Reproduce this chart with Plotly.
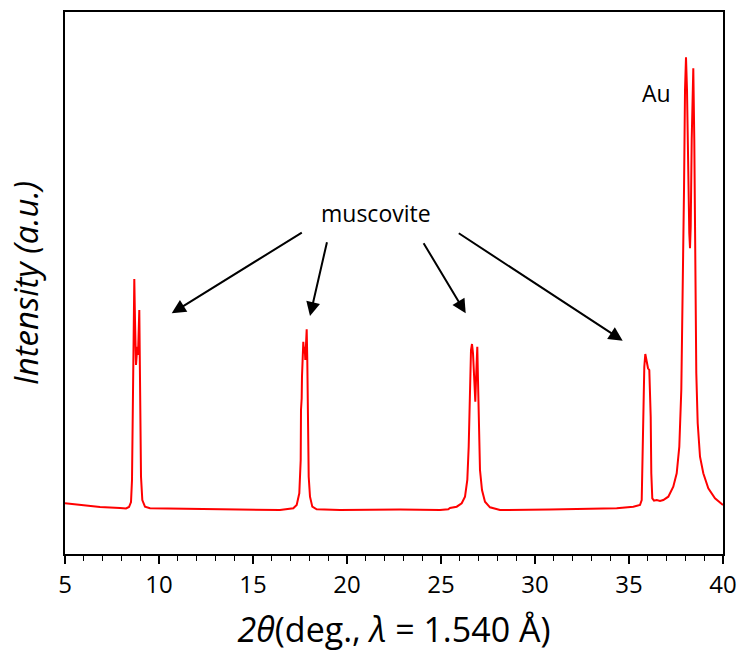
import plotly.graph_objects as go

# 2-theta (deg) and intensity (a.u.)
two_theta = [
    5.000, 5.798, 6.862, 7.926, 8.245, 8.404, 8.511, 8.564, 8.617, 8.660, 8.686,
    8.723, 8.777, 8.846, 8.883, 8.952, 9.005, 9.043, 9.112, 9.255, 9.521,
    12.181, 14.840, 16.436, 17.144, 17.324, 17.463, 17.537, 17.553, 17.590, 17.606,
    17.644, 17.676, 17.713, 17.750, 17.782, 17.819, 17.856, 17.888, 17.926, 17.963,
    18.032, 18.154, 18.388, 19.628, 22.819, 24.947, 25.388, 25.479, 25.835, 26.101,
    26.277, 26.399, 26.473, 26.543, 26.596, 26.649, 26.702, 26.771, 26.824, 26.862,
    26.899, 26.931, 26.968, 27.005, 27.074, 27.181, 27.340, 27.606, 28.138, 30.798,
    33.457, 34.346, 35.229, 35.585, 35.676, 35.729, 35.761, 35.814, 35.867, 35.941,
    36.011, 36.080, 36.117, 36.154, 36.186, 36.239, 36.330, 36.473, 36.649, 36.824,
    37.090, 37.356, 37.537, 37.676, 37.782, 37.856, 37.926, 37.979, 38.032, 38.085,
    38.138, 38.207, 38.245, 38.282, 38.335, 38.388, 38.420, 38.473, 38.527, 38.580,
    38.654, 38.777, 38.952, 39.218, 39.574, 40.000,
]
intensity = [
    50.7, 49.0, 47.0, 46.0, 45.5, 47.0, 52.0, 74.0, 154.0, 254.0, 275.0,
    234.0, 189.0, 207.3, 199.0, 244.0, 161.0, 77.3, 54.0, 47.3, 45.7,
    45.0, 44.5, 44.0, 45.7, 49.0, 60.7, 94.0, 144.0, 155.7, 177.3,
    204.0, 212.3, 200.7, 207.3, 194.0, 210.7, 224.7, 194.0, 127.3, 77.3,
    57.3, 47.3, 44.7, 44.0, 44.5, 44.0, 44.7, 46.0, 47.3, 50.7,
    57.3, 74.0, 107.3, 174.0, 204.0, 210.0, 200.7, 174.0, 152.3, 174.0,
    205.7, 207.3, 174.0, 124.0, 84.0, 64.0, 52.3, 46.7, 44.0, 44.5,
    45.0, 45.7, 47.3, 49.0, 54.0, 97.3, 147.3, 187.3, 200.0, 194.0,
    185.7, 184.0, 164.0, 137.3, 80.7, 55.7, 53.3, 54.0, 53.0, 54.0,
    57.3, 67.3, 80.7, 107.3, 164.0, 247.3, 364.0, 464.0, 496.7, 464.0,
    380.7, 320.7, 305.7, 327.3, 414.0, 485.7, 485.7, 414.0, 280.7, 180.7,
    130.7, 97.3, 80.7, 65.7, 55.7, 49.0,
]

# x tick values/labels
x_ticks = [5, 10, 15, 20, 25, 30, 35, 40]
x_tick_labels = ["5", "10", "15", "20", "25", "30", "35", "40"]

fig = go.Figure()
fig.add_trace(go.Scatter(
    x=two_theta, y=intensity, mode="lines",
    line=dict(color="#ff0000", width=2),
    showlegend=False, hoverinfo="skip",
))

# muscovite arrows: (tail x, tail y, head x, head y)
arrows = [
    (17.676, 322.3, 10.676, 240.7),
    (18.952, 313.3, 18.032, 238.0),
    (24.027, 312.3, 26.314, 240.7),
    (25.867, 321.7, 34.665, 213.3),
]
for tx, ty, hx, hy in arrows:
    fig.add_annotation(
        x=hx, y=hy, ax=tx, ay=ty, xref="x", yref="y", axref="x", ayref="y",
        text="", showarrow=True, arrowhead=2, arrowsize=1.4, arrowwidth=2,
        arrowcolor="black",
    )

fig.add_annotation(x=21.54, y=341, xref="x", yref="y", text="muscovite",
                   showarrow=False, font=dict(family="Open Sans", size=23, color="black"))
fig.add_annotation(x=36.44, y=461, xref="x", yref="y", text="Au",
                   showarrow=False, font=dict(family="Open Sans", size=23, color="black"))

fig.update_layout(
    width=741, height=652,
    margin=dict(l=65, r=18, t=12, b=98),
    plot_bgcolor="white", paper_bgcolor="white",
    font=dict(family="Open Sans", color="black"),
)
fig.update_xaxes(
    range=[5, 40], tickmode="array", tickvals=x_ticks, ticktext=x_tick_labels,
    ticks="outside", ticklen=8, tickwidth=1.5, tickcolor="black",
    minor=dict(dtick=1, ticks="outside", ticklen=5, tickwidth=1.2, tickcolor="black"),
    showline=True, linecolor="black", linewidth=2, mirror=True,
    showgrid=False, zeroline=False, automargin=False,
    tickfont=dict(family="Open Sans", size=24, color="black"),
    title=dict(text="<i>2θ</i>(deg., <i>λ</i> = 1.540 Å)",
               font=dict(family="Open Sans", size=34, color="black"), standoff=22),
)
fig.update_yaxes(
    range=[0, 542], showticklabels=False, ticks="",
    showline=True, linecolor="black", linewidth=2, mirror=True,
    showgrid=False, zeroline=False, automargin=False,
    title=dict(text="<i>Intensity (a.u.)</i>",
               font=dict(family="Open Sans", size=33, color="black"), standoff=14),
)

fig.write_html("out.html")
